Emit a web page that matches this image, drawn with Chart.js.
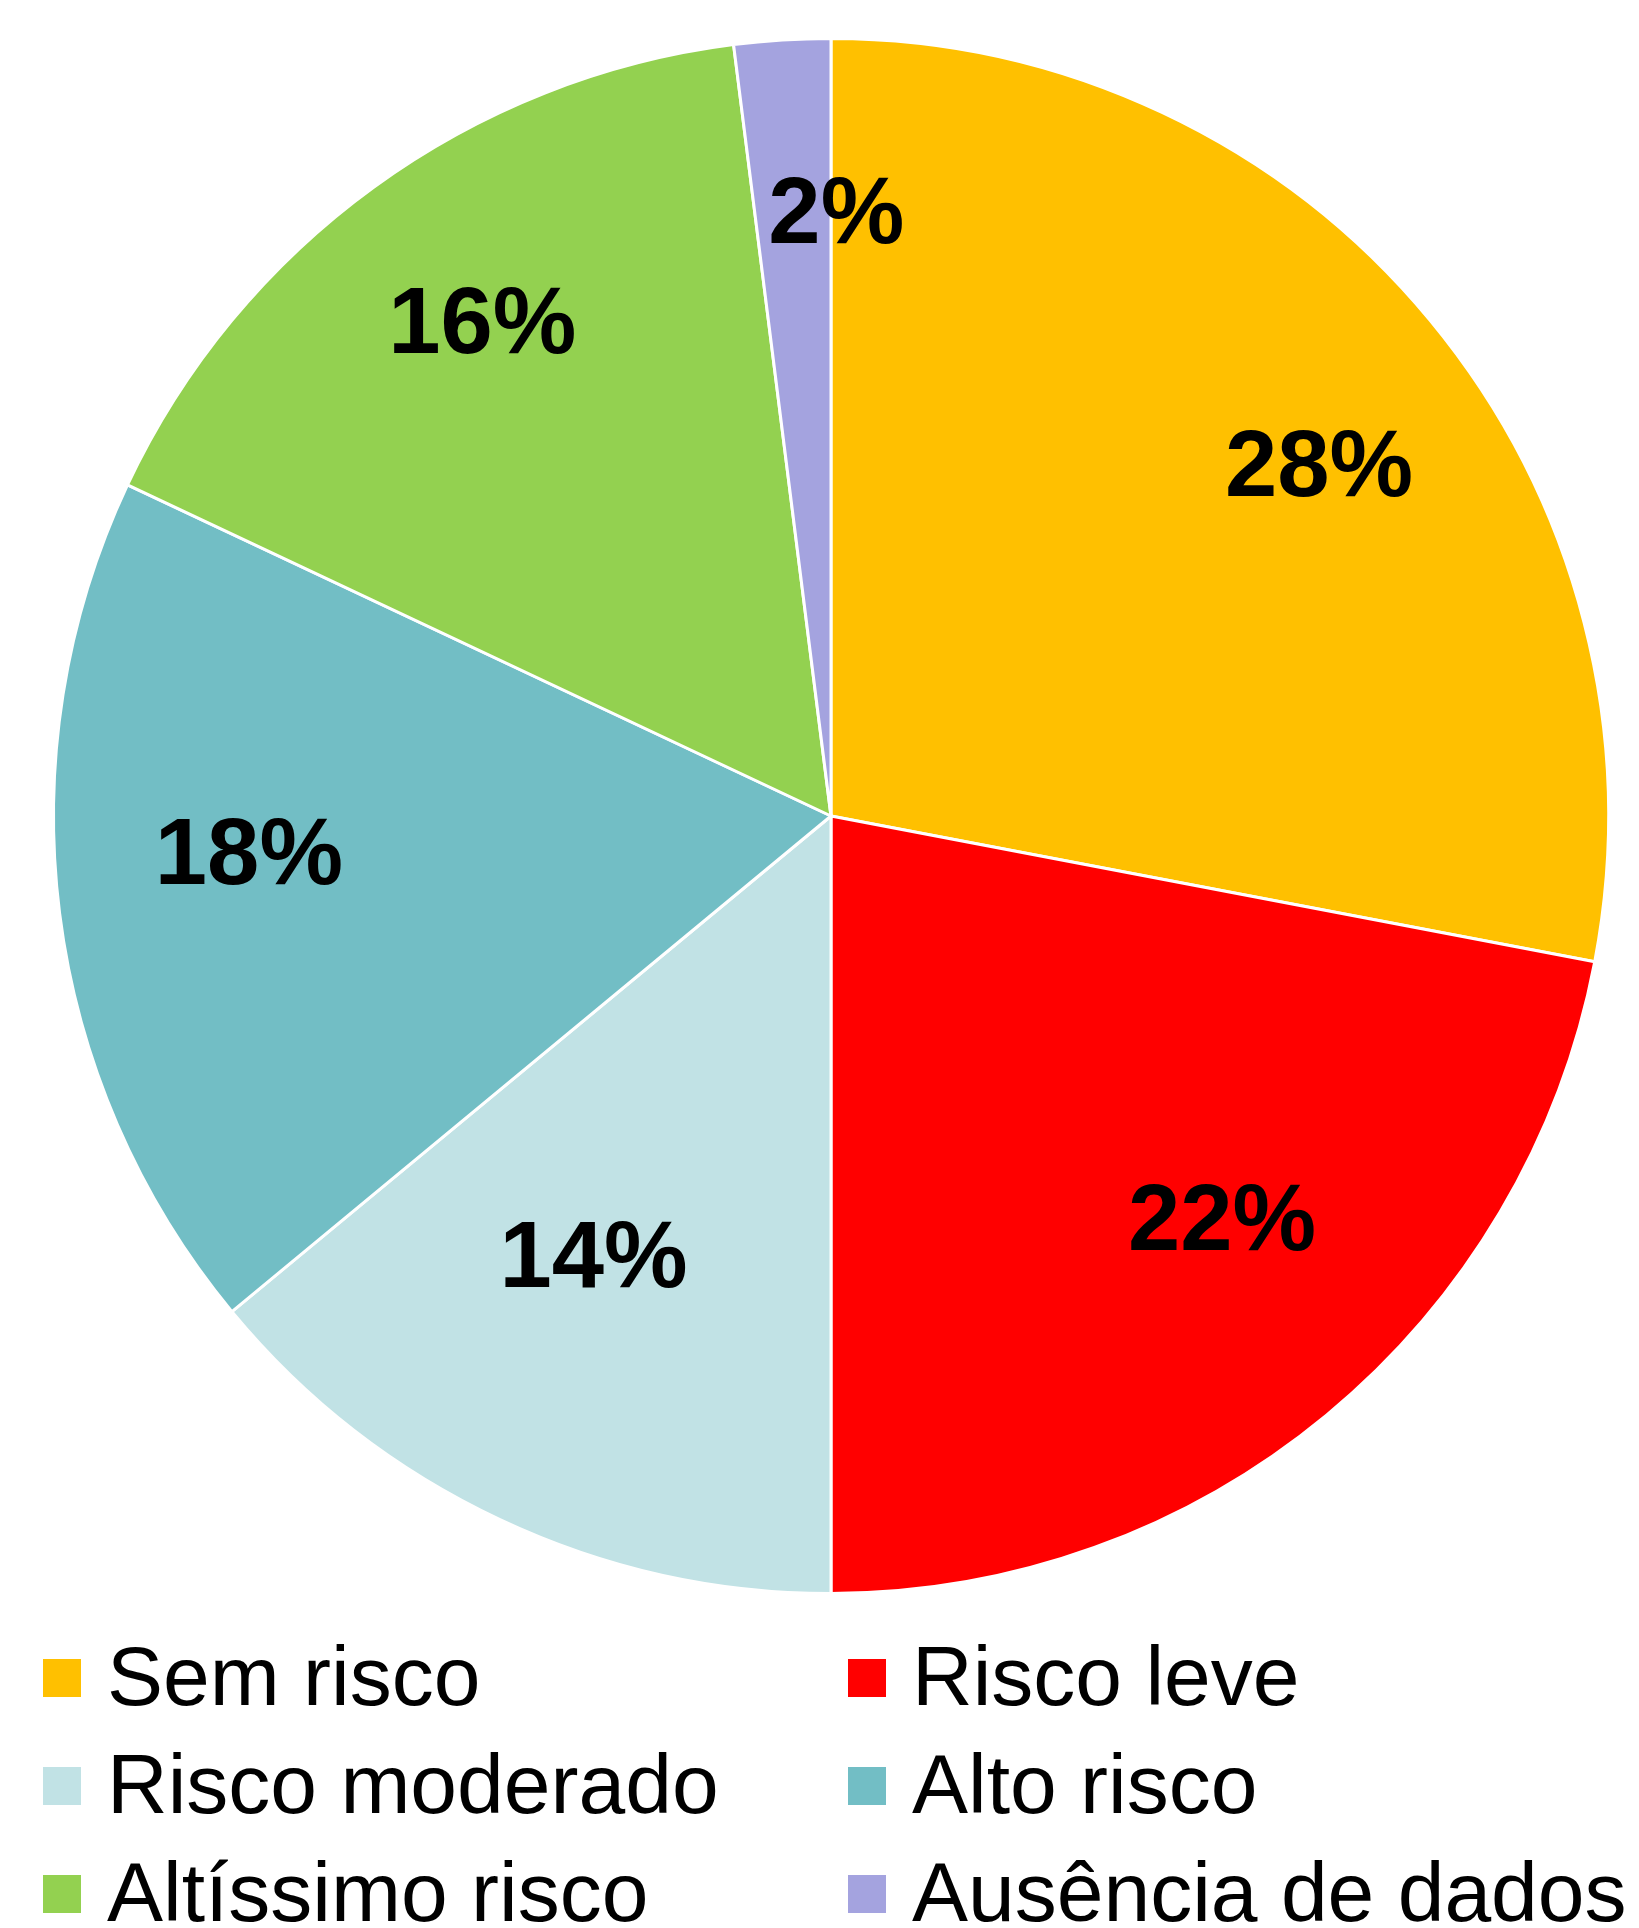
<!DOCTYPE html>
<html>
<head>
<meta charset="utf-8">
<script src="https://cdn.jsdelivr.net/npm/chart.js@4.4.1/dist/chart.umd.min.js"></script>
<style>
  html, body { margin:0; padding:0; background:#fff; }
  #wrap { width:1639px; height:1928px; }
</style>
</head>
<body>
<div id="wrap"><canvas id="pie" width="1639" height="1928"></canvas></div>
<script>
// Dados
const categories = ['Sem risco', 'Risco leve', 'Risco moderado', 'Alto risco', 'Altíssimo risco', 'Ausência de dados'];
const percentValues = [28, 22, 14, 18, 16, 2];
const sliceColors = ['#FFC000', '#FF0000', '#C1E2E5', '#72BEC5', '#93D150', '#A4A3DF'];

// ajuste fino dos rótulos (fração do raio, desvio angular em graus)
const labelRadius = [0.775, 0.72, 0.64, 0.75, 0.78, 0.78];
const labelShift = [3.7, -4.7, 3.3, 3.8, 0.9, 4.1];

const FONT = '"Liberation Sans", Arial, sans-serif';

const pieLabels = {
  id: 'pieLabels',
  afterDatasetsDraw(chart) {
    const ctx = chart.ctx;
    const arcs = chart.getDatasetMeta(0).data;
    ctx.save();
    ctx.font = 'bold 94px ' + FONT;
    ctx.fillStyle = '#000';
    ctx.textAlign = 'center';
    ctx.textBaseline = 'alphabetic';
    arcs.forEach((arc, i) => {
      const p = arc.getProps(['x', 'y', 'startAngle', 'endAngle', 'outerRadius'], true);
      const mid = (p.startAngle + p.endAngle) / 2 + labelShift[i] * Math.PI / 180;
      const r = p.outerRadius * labelRadius[i];
      const x = p.x + Math.cos(mid) * r;
      const y = p.y + Math.sin(mid) * r;
      ctx.fillText(chart.data.datasets[0].data[i] + '%', x, y + 94 * 0.716 / 2);
    });
    ctx.restore();
  }
};

// legenda em duas colunas, desenhada no canvas
const gridLegend = {
  id: 'gridLegend',
  afterDraw(chart) {
    const ctx = chart.ctx;
    const colX = [43, 848];
    const rowY = [1705, 1813, 1921];
    const box = 38;
    ctx.save();
    ctx.font = '84px ' + FONT;
    ctx.textBaseline = 'alphabetic';
    ctx.textAlign = 'left';
    chart.data.labels.forEach((lab, i) => {
      const x = colX[i % 2];
      const y = rowY[Math.floor(i / 2)];
      ctx.fillStyle = chart.data.datasets[0].backgroundColor[i];
      ctx.fillRect(x, y - 46, box, box);
      ctx.fillStyle = '#000';
      ctx.fillText(lab, x + 64, y);
    });
    ctx.restore();
  }
};

new Chart(document.getElementById('pie'), {
  type: 'pie',
  data: {
    labels: categories,
    datasets: [{
      data: percentValues,
      backgroundColor: sliceColors,
      borderColor: '#ffffff',
      borderWidth: 3,
      hoverOffset: 0
    }]
  },
  options: {
    responsive: false,
    animation: false,
    layout: { padding: { left: 52, right: 29, top: 37, bottom: 333 } },
    plugins: {
      legend: { display: false },
      tooltip: { enabled: false }
    }
  },
  plugins: [pieLabels, gridLegend]
});
</script>
</body>
</html>
